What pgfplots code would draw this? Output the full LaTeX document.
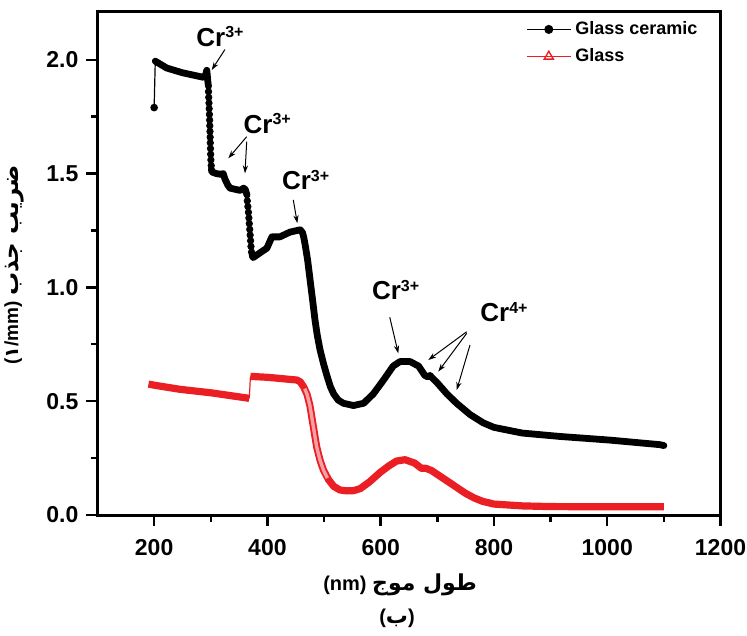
\documentclass[border=0pt]{standalone}
\usepackage{pgfplots}
\pgfplotsset{compat=1.18}
\usepackage{fontspec}
\setmainfont{Liberation Sans}
\newfontfamily\arabicfont[Script=Arabic]{DejaVu Sans}
\newfontfamily\dejavu{DejaVu Sans}
\usetikzlibrary{arrows.meta}
\TeXXeTstate=1
\definecolor{gred}{RGB}{235,30,35}
\definecolor{gpink}{RGB}{245,160,165}
\begin{document}
\begin{tikzpicture}
\useasboundingbox (-48.75pt,-60pt) rectangle (324.75pt,257.5pt);
\begin{axis}[
  at={(0,0)}, anchor=south west,
  scale only axis, width=311.5pt, height=251.5pt,
  xmin=100, xmax=1200, ymin=0, ymax=2.21,
  xtick={200,400,...,1200}, minor xtick={300,500,...,1100},
  ytick={0,0.5,...,2.0}, minor ytick={0.25,0.75,...,1.75},
  xtick pos=left, ytick pos=left,
  tick align=outside,
  major tick length=5.5pt, minor tick length=3.3pt,
  every tick/.style={black, line width=1.2pt},
  axis line style={line width=1.5pt},
  tick label style={font=\bfseries\fontsize{11.5}{13}\selectfont},
  /pgf/number format/assume math mode=true,
  scaled ticks=false,
  yticklabel style={/pgf/number format/fixed, /pgf/number format/fixed zerofill, /pgf/number format/precision=1, xshift=-0.5pt},
  xticklabel style={/pgf/number format/1000 sep={}, yshift=-3pt},
  clip=false,
  legend style={at={(0.678,0.998)}, anchor=north west, draw=none, fill=none,
    font=\bfseries\fontsize{9}{11}\selectfont, row sep=1.5pt},
  legend cell align=left,
  legend image code/.code={\draw[mark repeat=2,mark phase=2,#1] plot coordinates {(0pt,0pt)(11pt,0pt)(22pt,0pt)};},
]
\addlegendimage{black, line width=0.5pt, mark=*, mark size=2pt}
\addlegendentry{Glass ceramic}
\addlegendimage{gred, line width=0.5pt, mark=triangle, mark size=2.6pt, mark options={gred, line width=0.7pt, fill=white}}
\addlegendentry{Glass}

% ---- Glass (red)
\addplot[forget plot, gred, line width=3.6pt, line join=round] coordinates {
(190,0.575)(201,0.570)(246,0.552)(300,0.537)(364,0.514)(368,0.512)};
\addplot[forget plot, gred, line width=0.6pt] coordinates {(368,0.512)(370,0.609)};
\addplot[forget plot, gred, line width=3.6pt, line join=round] coordinates {
(370,0.609)(400,0.605)(452,0.593)(458,0.585)(464,0.563)(470,0.53)(475,0.481)(481,0.390)(487,0.299)(493,0.24)(499,0.197)(508,0.155)(517,0.126)(528,0.11)(540,0.106)(552,0.107)(564,0.116)(580,0.145)(599,0.187)(614,0.215)(628,0.237)(643,0.243)(660,0.228)(672,0.205)(680,0.205)(690,0.195)(705,0.17)(720,0.145)(735,0.12)(750,0.095)(765,0.075)(780,0.06)(800,0.048)(850,0.04)(900,0.037)(1000,0.036)(1100,0.036)};
\addplot[forget plot, gpink, line width=1.7pt, line join=round] coordinates {
(466,0.555)(470,0.53)(475,0.481)(481,0.390)(487,0.299)(493,0.24)(499,0.197)(506,0.162)};

% ---- Glass ceramic (black)
\addplot[forget plot, black, line width=0.6pt, mark=*, mark size=1.6pt, mark indices={1}] coordinates {(200,1.79)(202,1.994)};
\addplot[forget plot, black, line width=3.4pt, line join=round, line cap=round] coordinates {
(202,1.994)(222,1.964)(250,1.943)(287,1.923)(291,1.935)(293,1.954)(295,1.90)(296,1.883)};
\addplot[forget plot, only marks, black, mark=*, mark size=1.6pt] coordinates {
(296.0,1.86)(296.4,1.835)(296.8,1.81)(297.2,1.785)(297.6,1.76)(298.0,1.735)(298.3,1.71)(298.6,1.685)(298.9,1.66)(299.2,1.635)(299.5,1.61)(299.8,1.585)(300.2,1.56)(300.8,1.535)};
\addplot[forget plot, black, line width=3.4pt, line join=round, line cap=round] coordinates {
(301,1.52)(302,1.507)(310,1.50)(317,1.497)(322,1.50)(325,1.476)(330,1.45)(334,1.436)(345,1.43)(352,1.426)(358,1.436)(361,1.43)(364,1.405)};
\addplot[forget plot, only marks, black, mark=*, mark size=1.6pt] coordinates {
(364.5,1.38)(365.5,1.355)(366.5,1.33)(367.3,1.305)(368,1.28)(368.8,1.255)(369.5,1.23)(370.3,1.205)(371,1.18)(372,1.155)};
\addplot[forget plot, black, line width=3.4pt, line join=round, line cap=round] coordinates {
(373,1.14)(375,1.131)(380,1.14)(387,1.152)(399,1.172)(404,1.20)(408,1.222)(422,1.222)(440,1.243)(458,1.253)(462,1.24)(464,1.222)(467,1.182)(471,1.12)(475,1.040)(480,0.94)(484,0.857)(488,0.79)(493,0.725)(499,0.665)(505,0.613)(511,0.565)(517,0.532)(525,0.505)(534,0.491)(552,0.481)(570,0.491)(587,0.532)(605,0.593)(622,0.654)(634,0.674)(652,0.674)(667,0.654)(678,0.613)(683,0.607)(687,0.613)(692,0.60)(699,0.583)(717,0.532)(734,0.491)(758,0.441)(781,0.405)(800,0.385)(850,0.36)(917,0.345)(1005,0.329)(1093,0.309)(1100,0.305)};

% ---- annotations
\tikzset{crlab/.style={anchor=base west, inner sep=0pt, font=\bfseries\fontsize{13}{15}\selectfont},
         crarr/.style={-{Stealth[length=4pt,width=2.6pt]}, line width=0.5pt}}
\node[crlab] at (axis cs:274,2.058) {Cr\textsuperscript{\fontsize{8}{9}\selectfont 3+}};
\draw[crarr] (axis cs:325,2.045) -- (axis cs:301.6,1.955);
\node[crlab] at (axis cs:357.4,1.677) {Cr\textsuperscript{\fontsize{8}{9}\selectfont 3+}};
\draw[crarr] (axis cs:363.4,1.662) -- (axis cs:330.9,1.567);
\draw[crarr] (axis cs:363.4,1.640) -- (axis cs:360.4,1.501);
\node[crlab] at (axis cs:425.2,1.428) {Cr\textsuperscript{\fontsize{8}{9}\selectfont 3+}};
\draw[crarr] (axis cs:445.7,1.384) -- (axis cs:452.8,1.282);
\node[crlab] at (axis cs:584.1,0.945) {Cr\textsuperscript{\fontsize{8}{9}\selectfont 3+}};
\draw[crarr] (axis cs:616,0.869) -- (axis cs:631.1,0.710);
\node[crlab] at (axis cs:775.3,0.849) {Cr\textsuperscript{\fontsize{8}{9}\selectfont 4+}};
\draw[crarr] (axis cs:751.8,0.805) -- (axis cs:684,0.681);
\draw[crarr] (axis cs:751.8,0.798) -- (axis cs:701.7,0.630);
\draw[crarr] (axis cs:757.7,0.747) -- (axis cs:734.2,0.549);
\end{axis}
\node[rotate=90, inner sep=0pt] at (-41.75pt,125pt)
  {{\bfseries\fontsize{9.5}{11}\selectfont(}{\dejavu\bfseries\fontsize{9.5}{11}\selectfont ۱}{\bfseries\fontsize{9.5}{11}\selectfont/mm)}\ {\arabicfont\bfseries\fontsize{11.5}{14}\selectfont\beginR ضریب جذب\endR}};
\node[inner sep=0pt] at (151.25pt,-35pt)
  {{\bfseries\fontsize{10}{12}\selectfont(nm)}\ {\arabicfont\bfseries\fontsize{11}{14}\selectfont\beginR طول موج\endR}};
\node[inner sep=0pt] at (149.75pt,-51.5pt)
  {{\bfseries\fontsize{10}{12}\selectfont(}{\arabicfont\bfseries\fontsize{11}{13}\selectfont ب}{\bfseries\fontsize{10}{12}\selectfont)}};
\end{tikzpicture}
\end{document}
